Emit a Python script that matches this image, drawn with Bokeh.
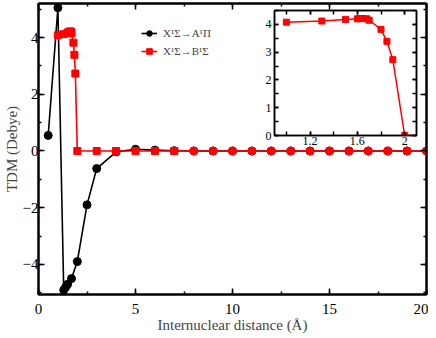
import numpy as np
from bokeh.plotting import figure
from bokeh.models import (LinearAxis, SingleIntervalTicker, Range1d, Legend,
                          LegendItem, GridBox, Column)
from bokeh.embed import file_html
from bokeh.resources import INLINE

FONT = "Liberation Serif"
RED = "#ff0000"

# X1Sigma -> A1Pi transition dipole moment (Debye)
a_x = [0.5, 1.0, 1.3, 1.4, 1.5, 1.7, 2.0, 2.5, 3.0, 4.0, 5.0, 6.0, 7.0,
       8.0, 9.0, 10.0, 11.0, 12.0, 13.0, 14.0, 15.0, 16.0, 17.0, 18.0, 19.0, 20.0]
a_y = [0.55, 5.05, -4.9, -4.8, -4.7, -4.5, -3.9, -1.9, -0.62, -0.03, 0.06, 0.03, 0.01,
       0.0, 0.0, 0.0, 0.0, 0.0, 0.0, 0.0, 0.0, 0.0, 0.0, 0.0, 0.0, 0.0]

# X1Sigma -> B1Sigma transition dipole moment (Debye)
b_x = [1.0, 1.3, 1.5, 1.6, 1.62, 1.65, 1.68, 1.7, 1.8, 1.85, 1.9, 2.0,
       3.0, 4.0, 5.0, 6.0, 7.0, 8.0, 9.0, 10.0, 11.0, 12.0, 13.0, 14.0,
       15.0, 16.0, 17.0, 18.0, 19.0, 20.0]
b_y = [4.08, 4.12, 4.18, 4.2, 4.21, 4.21, 4.2, 4.15, 3.82, 3.39, 2.73, 0.0,
       0.0, 0.0, 0.0, 0.0, 0.0, 0.0, 0.0, 0.0, 0.0, 0.0, 0.0, 0.0,
       0.0, 0.0, 0.0, 0.0, 0.0, 0.0]

a_label = "X\u00b9\u03a3\u2192A\u00b9\u03a0"
b_label = "X\u00b9\u03a3\u2192B\u00b9\u03a3"
x_label = "Internuclear distance (\u00c5)"
y_label = "TDM (Debye)"

bx = np.array(b_x)
by = np.array(b_y)
sq_mask = bx < 7.5


def style_axis(ax, show_labels, font_px, major_len, minor_len, lw):
    ax.axis_line_width = lw
    ax.axis_line_color = "black"
    ax.major_tick_in = major_len
    ax.major_tick_out = 0
    ax.minor_tick_in = minor_len
    ax.minor_tick_out = 0
    ax.major_tick_line_width = 1.5
    ax.minor_tick_line_width = 1.5
    ax.major_tick_line_color = "black"
    ax.minor_tick_line_color = "black"
    ax.major_label_text_font = FONT
    ax.major_label_text_font_size = f"{font_px}px"
    if show_labels:
        ax.major_label_text_color = "black"
    else:
        ax.major_label_text_color = None
        ax.major_label_text_font_size = "1px"
        ax.major_label_standoff = 0


# ---------------- main figure ----------------
p = figure(width=428, height=335, output_backend="svg", toolbar_location=None,
           x_range=Range1d(0, 20), y_range=Range1d(-5.06, 5.2),
           min_border_left=38, min_border_right=2, min_border_top=3, min_border_bottom=0)
p.xgrid.visible = False
p.ygrid.visible = False
p.outline_line_color = "black"
p.outline_line_width = 2
p.background_fill_color = "white"
p.border_fill_color = "white"

p.xaxis.ticker = SingleIntervalTicker(interval=5, num_minor_ticks=2)
p.yaxis.ticker = SingleIntervalTicker(interval=2, num_minor_ticks=2)
style_axis(p.xaxis[0], True, 15, 6, 3, 2)
style_axis(p.yaxis[0], True, 15, 6, 3, 2)
p.xaxis.major_label_standoff = 9
p.yaxis.major_label_standoff = 0
p.xaxis.axis_label = x_label
p.yaxis.axis_label = y_label
for ax in (p.xaxis[0], p.yaxis[0]):
    ax.axis_label_text_font = FONT
    ax.axis_label_text_font_size = "15px"
    ax.axis_label_text_font_style = "normal"
    ax.axis_label_standoff = 0

top_ax = LinearAxis(ticker=SingleIntervalTicker(interval=5, num_minor_ticks=2))
right_ax = LinearAxis(ticker=SingleIntervalTicker(interval=2, num_minor_ticks=2))
style_axis(top_ax, False, 15, 6, 3, 2)
style_axis(right_ax, False, 15, 6, 3, 2)
p.add_layout(top_ax, "above")
p.add_layout(right_ax, "right")

a_line = p.line(a_x, a_y, line_color="black", line_width=1.6)
a_pts = p.scatter(a_x, a_y, marker="circle", size=8, fill_color="black", line_color="black")
b_line = p.line(b_x, b_y, line_color=RED, line_width=1.6)
b_sq = p.scatter(bx[sq_mask], by[sq_mask], marker="square", size=7,
                 fill_color=RED, line_color=RED)
b_ci = p.scatter(bx[~sq_mask], by[~sq_mask], marker="circle", size=8,
                 fill_color=RED, line_color=RED)

legend = Legend(items=[LegendItem(label=a_label, renderers=[a_line, a_pts]),
                       LegendItem(label=b_label, renderers=[b_line, b_sq])],
                location=(103, 236), padding=0, margin=0, spacing=4,
                glyph_width=16, glyph_height=14, label_height=14,
                label_standoff=6, label_text_font=FONT, label_text_font_size="11px",
                border_line_alpha=0, background_fill_alpha=0)
p.add_layout(legend)

# ---------------- inset ----------------
inset = figure(width=182, height=145, output_backend="svg",
               toolbar_location=None, x_range=Range1d(0.9, 2.1), y_range=Range1d(0, 4.5),
               min_border_left=38, min_border_right=2, min_border_top=3,
               min_border_bottom=17)
inset.xgrid.visible = False
inset.ygrid.visible = False
inset.outline_line_color = "black"
inset.outline_line_width = 1.5
inset.background_fill_color = "white"
inset.border_fill_alpha = 0
inset.xaxis.ticker = SingleIntervalTicker(interval=0.4, num_minor_ticks=2)
inset.yaxis.ticker = SingleIntervalTicker(interval=1, num_minor_ticks=2)
style_axis(inset.xaxis[0], True, 12, 4, 4, 1.5)
style_axis(inset.yaxis[0], True, 12, 4, 4, 1.5)
inset.xaxis.major_label_standoff = 1
inset.yaxis.major_label_standoff = 3
it_ax = LinearAxis(ticker=SingleIntervalTicker(interval=0.4, num_minor_ticks=2))
ir_ax = LinearAxis(ticker=SingleIntervalTicker(interval=1, num_minor_ticks=2))
style_axis(it_ax, False, 12, 4, 4, 1.5)
style_axis(ir_ax, False, 12, 4, 4, 1.5)
inset.add_layout(it_ax, "above")
inset.add_layout(ir_ax, "right")

inset.line(b_x, b_y, line_color=RED, line_width=1.5)
inset.scatter(b_x, b_y, marker="square", size=6, fill_color=RED, line_color=RED)

inset_box = Column(children=[inset], margin=(7, 0, 0, 236))
layout = GridBox(children=[(p, 0, 0), (inset_box, 0, 0)])

open("out.html", "w").write(file_html(layout, INLINE))
